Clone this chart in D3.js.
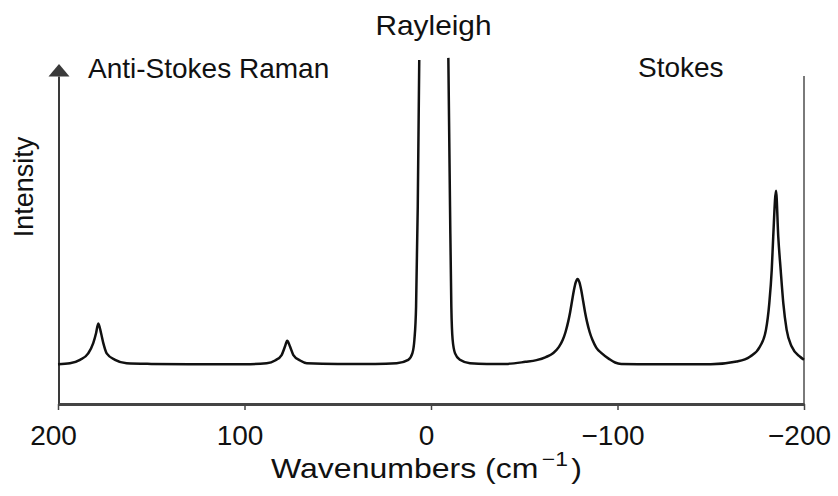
<!DOCTYPE html>
<html>
<meta charset="utf-8" />
<head>
  <script src="https://cdnjs.cloudflare.com/ajax/libs/d3/7.8.5/d3.min.js"></script>
  <style>
    body { margin: 0; background: #fff; }
    text { font-family: "Liberation Sans", Arial, sans-serif; fill: #111; }
  </style>
</head>
<body>
<script>
// spectrum: wavenumber (cm-1) and intensity (arbitrary units)
// null = Rayleigh line runs off the top of the plot
const wavenumbers = [
  200, 193.6, 188.2, 183.8, 181.1, 179.6, 178.4, 176.9, 175.7, 173.9, 169.4, 163.2,
  150, 130, 100, 88.1, 83.6, 80.1, 78.3, 77.1, 75.6, 73.8, 70.2, 66.6,
  50, 30, 18.4, 12.2, 10.0, 8.9, 8.0, 7.1, 6.3, -1.5,
  -9.3, -10.2, -10.9, -11.6, -12.9, -15.5, -20.9, -30,
  -40, -50.6, -56.6, -61.6, -65.6, -68.6, -70.6, -72.1, -73.6, -74.6, -75.6, -76.6, -77.6, -78.6,
  -79.6, -80.6, -81.6, -82.6, -83.6, -85.1, -86.6, -88.6, -91.6, -95.6, -98.7, -102,
  -120, -150, -163.9, -171.0, -176.4, -179.6, -181.4, -182.7, -183.5, -185.0,
  -186.2, -187.5, -188.9, -190.7, -193.4, -197.9, -200
];
const intensity = [
  11.7, 12.0, 13.0, 14.9, 17.9, 20.8, 23.7, 20.8, 17.9, 14.9, 13.0, 12.0,
  11.8, 11.7, 11.7, 12.0, 12.8, 14.4, 16.9, 18.6, 16.9, 14.4, 12.8, 12.0,
  11.8, 11.8, 12.0, 13.0, 14.9, 18.9, 28.7, 58.1, 101.2, null,
  101.8, 58.1, 28.7, 18.9, 14.9, 13.0, 12.0, 11.8,
  11.8, 12.4, 12.9, 13.8, 15.0, 16.8, 18.8, 21.1, 24.3, 27.0, 30.2, 33.4, 35.8, 36.8,
  35.8, 33.4, 30.2, 27.0, 24.3, 21.1, 18.8, 16.6, 14.9, 13.2, 12.2, 11.8,
  11.7, 11.7, 12.5, 13.9, 16.9, 21.8, 29.7, 39.4, 49.2, 62.7,
  49.2, 39.4, 29.7, 21.8, 16.9, 13.9, 13.0
];
const xTicks = [200, 100, 0, -100, -200];
const regionLabels = ["Anti-Stokes Raman", "Rayleigh", "Stokes"];
const xTitle = "Wavenumbers (cm";
const xTitleSup = "\u22121";
const yTitle = "Intensity";

const width = 838, height = 496;
const points = wavenumbers.map((w, i) => [w, intensity[i]]);

const svg = d3.select("body")
  .append("svg")
  .attr("width", width)
  .attr("height", height);

const x = d3.scaleLinear().domain([200, -200]).range([58, 804]);
const y = d3.scaleLinear().domain([0, 100]).range([404, 64]);

// right frame line
svg.append("line")
  .attr("x1", x(-200)).attr("x2", x(-200))
  .attr("y1", y(0)).attr("y2", y(96.5))
  .attr("stroke", "#7a7a7a")
  .attr("stroke-width", 2);

// y axis with arrow head
svg.append("line")
  .attr("x1", x(200) + 1).attr("x2", x(200) + 1)
  .attr("y1", y(0)).attr("y2", y(96.3))
  .attr("stroke", "#3a3a3a")
  .attr("stroke-width", 2);
svg.append("path")
  .attr("d", `M${x(200) + 1},${y(100)} L${x(200) - 9.5},${y(96.3)} L${x(200) + 11.5},${y(96.3)} Z`)
  .attr("fill", "#3a3a3a");

// x axis
const xAxis = svg.append("g")
  .attr("transform", `translate(0,${y(0)})`)
  .call(d3.axisBottom(x).tickValues(xTicks).tickSize(6).tickSizeOuter(0));
xAxis.select(".domain").attr("stroke", "#444").attr("stroke-width", 3);
xAxis.selectAll(".tick line").attr("stroke", "#444").attr("stroke-width", 1.5);
xAxis.selectAll(".tick text")
  .attr("y", 41)
  .attr("dy", 0)
  .attr("dx", -5)
  .attr("font-size", 28)
  .attr("font-family", "Liberation Sans, Arial, sans-serif")
  .attr("fill", "#111");

// spectrum
const line = d3.line()
  .defined(d => d[1] != null)
  .x(d => x(d[0]))
  .y(d => y(d[1]))
  .curve(d3.curveMonotoneX);

svg.append("path")
  .datum(points)
  .attr("fill", "none")
  .attr("stroke", "#111")
  .attr("stroke-width", 2.5)
  .attr("stroke-linejoin", "round")
  .attr("d", line);

// region labels
svg.append("text")
  .attr("x", 88).attr("y", 78)
  .attr("font-size", 28)
  .text(regionLabels[0]);
svg.append("text")
  .attr("x", 433.5).attr("y", 35)
  .attr("text-anchor", "middle")
  .attr("font-size", 28)
  .attr("textLength", 116)
  .attr("lengthAdjust", "spacingAndGlyphs")
  .text(regionLabels[1]);
svg.append("text")
  .attr("x", 638).attr("y", 77)
  .attr("font-size", 28)
  .text(regionLabels[2]);

// axis titles
const xt = svg.append("text")
  .attr("x", 271).attr("y", 478)
  .attr("font-size", 28)
  .attr("textLength", 311)
  .attr("lengthAdjust", "spacingAndGlyphs");
xt.append("tspan").text(xTitle);
xt.append("tspan").attr("dx", 3).attr("dy", -12).attr("font-size", 20).text(xTitleSup);
xt.append("tspan").attr("dx", 3).attr("dy", 12).text(")");

svg.append("text")
  .attr("transform", "translate(33,187) rotate(-90)")
  .attr("text-anchor", "middle")
  .attr("font-size", 27)
  .text(yTitle);
</script>
</body>
</html>
